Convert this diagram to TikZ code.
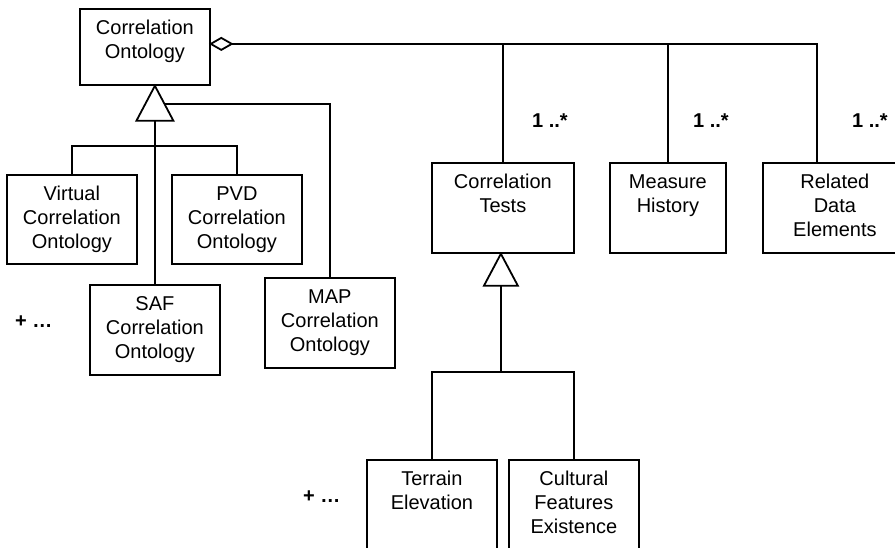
\documentclass[tikz,border=0pt]{standalone}
\usepackage{fontspec}
\setmainfont{Liberation Sans}
\usetikzlibrary{calc}
\begin{document}
\begin{tikzpicture}[x=1pt,y=1pt,
  ln/.style={line width=1.8pt},
  box/.style={draw, line width=1.8pt, inner sep=0pt, anchor=north west, fill=white},
  lbl/.style={align=center, inner sep=0pt, anchor=north, font=\fontsize{20}{24}\selectfont},
  mult/.style={inner sep=0pt, anchor=base west, font=\fontsize{20}{24}\selectfont\bfseries},
  gen/.style={draw, line width=1.8pt, fill=white, line join=miter}
]
\useasboundingbox (0,0) rectangle (895,-548);
\clip (0,0) rectangle (895,-548);

% boxes
\node[box, minimum width=130pt, minimum height=76pt] (co) at (79,-8) {};
\node[box, minimum width=130pt, minimum height=89pt] (virt) at (6,-174) {};
\node[box, minimum width=130pt, minimum height=89pt] (pvd) at (171,-174) {};
\node[box, minimum width=130pt, minimum height=90pt] (saf) at (89,-284) {};
\node[box, minimum width=130pt, minimum height=90pt] (map) at (264,-277) {};
\node[box, minimum width=142pt, minimum height=90pt] (ct) at (431,-162) {};
\node[box, minimum width=116pt, minimum height=90pt] (mh) at (609,-162) {};
\node[box, minimum width=144pt, minimum height=90pt] (rde) at (762,-162) {};
\node[box, minimum width=130pt, minimum height=120pt] (ter) at (366,-459) {};
\node[box, minimum width=130pt, minimum height=120pt] (cul) at (508,-459) {};

% box texts
\node[lbl] (coT) at ($(co.north)+(0,-9.2)$) {\strut Correlation\\Ontology};
\node[lbl] (virtT) at ($(virt.north)+(0,-9.2)$) {\strut Virtual\\Correlation\\Ontology};
\node[lbl] (pvdT) at ($(pvd.north)+(0,-9.2)$) {\strut PVD\\Correlation\\Ontology};
\node[lbl] (safT) at ($(saf.north)+(0,-9.2)$) {\strut SAF\\Correlation\\Ontology};
\node[lbl] (mapT) at ($(map.north)+(0,-9.2)$) {\strut MAP\\Correlation\\Ontology};
\node[lbl] (ctT) at ($(ct.north)+(0,-9.2)$) {\strut Correlation\\Tests};
\node[lbl] (mhT) at ($(mh.north)+(0,-9.2)$) {\strut Measure\\History};
\node[lbl] (rdeT) at ($(rde.north)+(0,-9.2)$) {\strut Related\\Data\\Elements};
\node[lbl] (terT) at ($(ter.north)+(0,-9.2)$) {\strut Terrain\\Elevation};
\node[lbl] (culT) at ($(cul.north)+(0,-9.2)$) {\strut Cultural\\Features\\Existence};

% aggregation
\coordinate (aggS) at ($(co.east)+(0,3)$);
\coordinate (aggE) at ($(aggS)+(21,0)$);
\coordinate (rdeJ) at ($(rde.north west)+(55,0)$);
\draw[ln] (aggE) -| (rdeJ);
\draw[ln] (ct.north) -- (ct.north |- aggS);
\draw[ln] (mh.north) -- (mh.north |- aggS);
\draw[gen] (aggS) -- ++(10.5,6) -- (aggE) -- ++(-10.5,-6) -- cycle;

% generalization to Correlation Ontology
\coordinate (coA) at ($(co.south)+(10,0)$);
\coordinate (coB) at ($(coA)+(0,-35)$);
\coordinate (coR) at ($(coA)+(9.5,-18)$);
\draw[ln] (virt.north) -- ++(0,28) coordinate (coBar) -| (pvd.north);
\draw[ln] (saf.north) -- (coB);
\draw[ln] (map.north) |- (coR);
\draw[gen] (coA) -- ++(-18.5,-35) -- ++(37,0) -- cycle;

% generalization to Correlation Tests
\coordinate (ctA) at ($(ct.south)+(-2,0)$);
\coordinate (ctB) at ($(ctA)+(0,-32)$);
\draw[ln] (ter.north) -- ++(0,87) coordinate (ctBar) -| (cul.north);
\draw[ln] (ctB) -- (ctB |- ctBar);
\draw[gen] (ctA) -- ++(-17,-32) -- ++(34,0) -- cycle;

% multiplicities and ellipses
\node[mult] (m1) at (532,-128) {1 ..*};
\node[mult] (m2) at (693,-128) {1 ..*};
\node[mult] (m3) at (852,-128) {1 ..*};
\node[mult] (p1) at (15,-327) {+ …};
\node[mult] (p2) at (303,-502) {+ …};
\end{tikzpicture}
\end{document}
